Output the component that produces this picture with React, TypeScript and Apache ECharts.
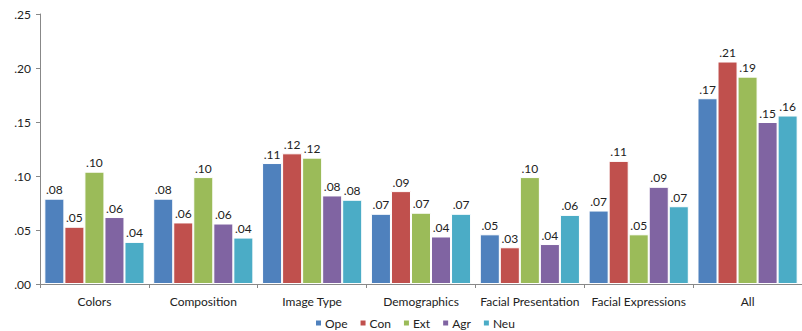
import React, { useEffect, useRef } from "react";
import * as echarts from "echarts";

const categories = ["Colors", "Composition", "Image Type", "Demographics", "Facial Presentation", "Facial Expressions", "All"];
const seriesNames = ["Ope", "Con", "Ext", "Agr", "Neu"];
const ope = [0.079, 0.079, 0.112, 0.065, 0.046, 0.068, 0.172];
const con = [0.053, 0.057, 0.121, 0.086, 0.034, 0.114, 0.206];
const ext = [0.104, 0.099, 0.117, 0.066, 0.099, 0.046, 0.192];
const agr = [0.062, 0.056, 0.082, 0.044, 0.037, 0.090, 0.150];
const neu = [0.039, 0.043, 0.078, 0.065, 0.064, 0.072, 0.156];
const colors = ["#4F81BD", "#C0504D", "#9BBB59", "#8064A2", "#4BACC6"];

const fmt = (v: number) => (Math.round(v * 100) / 100).toFixed(2).replace(/^0/, "");
const FONT = "Lato, 'Noto Sans', sans-serif";

export default function App() {
  const ref = useRef<HTMLDivElement>(null);
  useEffect(() => {
    if (!ref.current) return;
    const chart = echarts.init(ref.current, undefined, { renderer: "svg" });
    const data = [ope, con, ext, agr, neu];
    chart.setOption({
      animation: false,
      color: colors,
      textStyle: { fontFamily: FONT },
      grid: { left: 40, right: 0, top: 14, bottom: 47, containLabel: false },
      legend: {
        top: 312,
        left: 309,
        padding: 5,
        icon: "rect",
        itemWidth: 7,
        itemHeight: 7,
        itemGap: 11,
        textStyle: { fontSize: 12, color: "#222", fontFamily: FONT, padding: [0, 0, 0, -2] },
        data: seriesNames,
      },
      xAxis: {
        type: "category",
        data: categories,
        axisLine: { lineStyle: { color: "#888" } },
        axisTick: { show: true, length: 4, lineStyle: { color: "#888" } },
        axisLabel: { color: "#222", fontSize: 12, margin: 11, interval: 0 },
      },
      yAxis: {
        type: "value",
        min: 0,
        max: 0.25,
        interval: 0.05,
        splitLine: { show: false },
        axisLine: { show: true, lineStyle: { color: "#888" } },
        axisTick: { show: true, length: 4, lineStyle: { color: "#888" } },
        axisLabel: { color: "#222", fontSize: 12, margin: 9, formatter: (v: number) => fmt(v) },
      },
      series: seriesNames.map((name, i) => ({
        name,
        type: "bar",
        data: data[i],
        barGap: "0%",
        barCategoryGap: "8%",
        itemStyle: { color: colors[i], borderColor: "#fff", borderWidth: 1 },
        label: {
          show: true,
          position: "top",
          distance: 3,
          color: "#222",
          fontSize: 12,
          fontFamily: FONT,
          formatter: (p: any) => fmt(p.value),
        },
      })),
    });
    return () => chart.dispose();
  }, []);
  return <div ref={ref} style={{ width: 802, height: 331, position: "absolute", left: 0, top: 0 }} />;
}
